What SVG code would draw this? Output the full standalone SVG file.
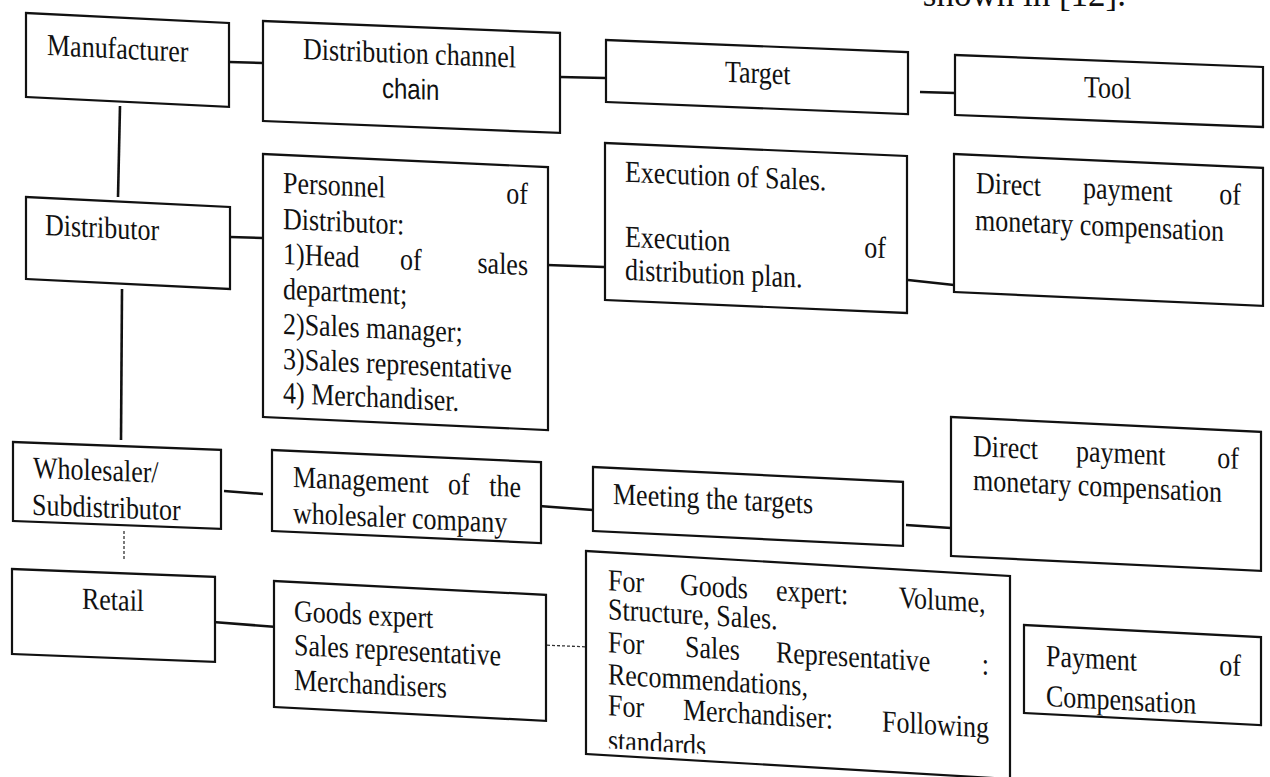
<svg xmlns="http://www.w3.org/2000/svg" width="1270" height="777" viewBox="0 0 1270 777">
<defs>
<style>
.box{fill:#fff;stroke:#111;stroke-width:2.2}
.t{font-family:"Liberation Serif","Times New Roman",serif;font-size:26px;fill:#111}
.s{font-family:"Liberation Sans",Arial,sans-serif;font-size:24px;fill:#111}
.c{stroke:#111;stroke-width:2.6;fill:none}
.cd{stroke:#333;stroke-width:1.3;fill:none;stroke-dasharray:3 2}
</style>
<clipPath id="forclip"><rect x="0" y="0" width="424" height="196"/></clipPath>
</defs>
<rect width="1270" height="777" fill="#fff"/>
<text class="t" x="1126" y="6" text-anchor="end" style="font-size:35px">shown in [12].</text>

<g id="connectors">
<path class="c" d="M229,62 L263,63"/>
<path class="c" d="M560,77 L605,78"/>
<path class="c" d="M920,92 L955,93"/>
<path class="c" d="M120,106 L118,197"/>
<path class="c" d="M230,237 L263,238"/>
<path class="c" d="M547,265 L604,267"/>
<path class="c" d="M908,280 L954,285"/>
<path class="c" d="M122,289 L121,440"/>
<path class="c" d="M224,491 L263,494"/>
<path class="c" d="M539,506 L593,510"/>
<path class="c" d="M906,525 L951,528"/>
<path class="cd" d="M124,531 L124,561"/>
<path class="c" d="M213,622 L277,627"/>
<path class="cd" d="M542,645 L590,647"/>
</g>

<g id="manufacturer" transform="matrix(1,0.049,0,1,26,13)">
<rect class="box" width="203" height="84"/>
<text class="t" transform="matrix(1,0,0,1.18,0,41)" x="21">Manufacturer</text>
</g>

<g id="distribution-channel" transform="matrix(1,0.040,0,1,263,21)">
<rect class="box" width="297" height="100"/>
<text class="t" transform="matrix(1,0,0,1.18,0,36.5)" x="40">Distribution channel</text>
<text class="s" transform="matrix(1,0,0,1.18,0,72)" x="119">chain</text>
</g>

<g id="target" transform="matrix(1,0.040,0,1,606,40)">
<rect class="box" width="302" height="62"/>
<text class="t" transform="matrix(1,0,0,1.18,0,37)" x="119">Target</text>
</g>

<g id="tool" transform="matrix(1,0.039,0,1,955,55)">
<rect class="box" width="308" height="60"/>
<text class="t" transform="matrix(1,0,0,1.18,0,37)" x="129">Tool</text>
</g>

<g id="distributor" transform="matrix(1,0.049,0,1,26,197)">
<rect class="box" width="204" height="82"/>
<text class="t" transform="matrix(1,0,0,1.18,0,37)" x="19">Distributor</text>
</g>

<g id="personnel" transform="matrix(1,0.046,0,1,263,154)">
<rect class="box" width="285" height="263"/>
<text class="t" transform="matrix(1,0,0,1.18,0,38)" x="20">Personnel<tspan x="243.3">of</tspan></text>
<text class="t" transform="matrix(1,0,0,1.18,0,74)" x="20">Distributor:</text>
<text class="t" transform="matrix(1,0,0,1.18,0,109)" x="20">1)Head<tspan x="137">of</tspan><tspan x="214.5">sales</tspan></text>
<text class="t" transform="matrix(1,0,0,1.18,0,144)" x="20">department;</text>
<text class="t" transform="matrix(1,0,0,1.18,0,179)" x="20">2)Sales manager;</text>
<text class="t" transform="matrix(1,0,0,1.18,0,214)" x="20">3)Sales representative</text>
<text class="t" transform="matrix(1,0,0,1.18,0,248)" x="20">4) Merchandiser.</text>
</g>

<g id="execution" transform="matrix(1,0.043,0,1,605,143)">
<rect class="box" width="302" height="157"/>
<text class="t" transform="matrix(1,0,0,1.18,0,38)" x="20">Execution of Sales.</text>
<text class="t" transform="matrix(1,0,0,1.18,0,103)" x="20">Execution<tspan x="259.3">of</tspan></text>
<text class="t" transform="matrix(1,0,0,1.18,0,136)" x="20">distribution plan.</text>
</g>

<g id="direct-payment-1" transform="matrix(1,0.045,0,1,954,154)">
<rect class="box" width="309" height="138"/>
<text class="t" transform="matrix(1,0,0,1.18,0,38)" x="22">Direct<tspan x="129">payment</tspan><tspan x="265.3">of</tspan></text>
<text class="t" transform="matrix(1,0,0,1.18,0,75)" x="21">monetary compensation</text>
</g>

<g id="wholesaler" transform="matrix(1,0.038,0,1,13,442)">
<rect class="box" width="208" height="79"/>
<text class="t" transform="matrix(1,0,0,1.18,0,35)" x="20">Wholesaler/</text>
<text class="t" transform="matrix(1,0,0,1.18,0,72)" x="19">Subdistributor</text>
</g>

<g id="management" transform="matrix(1,0.045,0,1,272,450)">
<rect class="box" width="269" height="81"/>
<text class="t" transform="matrix(1,0,0,1.18,0,36)" x="21">Management<tspan x="176">of</tspan><tspan x="217.2">the</tspan></text>
<text class="t" transform="matrix(1,0,0,1.18,0,72)" x="21">wholesaler company</text>
</g>

<g id="meeting" transform="matrix(1,0.048,0,1,593,467)">
<rect class="box" width="310" height="64"/>
<text class="t" transform="matrix(1,0,0,1.18,0,36)" x="20">Meeting the targets</text>
</g>

<g id="direct-payment-2" transform="matrix(1,0.048,0,1,951,417)">
<rect class="box" width="310" height="139"/>
<text class="t" transform="matrix(1,0,0,1.18,0,38)" x="22">Direct<tspan x="125">payment</tspan><tspan x="266.3">of</tspan></text>
<text class="t" transform="matrix(1,0,0,1.18,0,72)" x="22">monetary compensation</text>
</g>

<g id="retail" transform="matrix(1,0.039,0,1,12,569)">
<rect class="box" width="203" height="85"/>
<text class="t" transform="matrix(1,0,0,1.18,0,37)" x="70">Retail</text>
</g>

<g id="staff" transform="matrix(1,0.051,0,1,274,581)">
<rect class="box" width="272" height="126"/>
<text class="t" transform="matrix(1,0,0,1.18,0,39)" x="20">Goods expert</text>
<text class="t" transform="matrix(1,0,0,1.18,0,73)" x="20">Sales representative</text>
<text class="t" transform="matrix(1,0,0,1.18,0,108)" x="20">Merchandisers</text>
</g>

<g id="targets-detail" transform="matrix(1,0.059,0,1,586,551)">
<rect class="box" width="424" height="203"/>
<g clip-path="url(#forclip)">
<text class="t" transform="matrix(1,0,0,1.18,0,38)" x="22">For<tspan x="94">Goods</tspan><tspan x="190">expert:</tspan><tspan x="312.7">Volume,</tspan></text>
<text class="t" transform="matrix(1,0,0,1.18,0,67)" x="22">Structure, Sales.</text>
<text class="t" transform="matrix(1,0,0,1.18,0,100)" x="22">For<tspan x="99">Sales</tspan><tspan x="190">Representative</tspan><tspan x="395.8">:</tspan></text>
<text class="t" transform="matrix(1,0,0,1.18,0,132)" x="22">Recommendations,</text>
<text class="t" transform="matrix(1,0,0,1.18,0,163)" x="22">For<tspan x="97">Merchandiser:</tspan><tspan x="296.1">Following</tspan></text>
<text class="t" transform="matrix(1,0,0,1.18,0,198)" x="22">standards</text>
</g>
</g>

<g id="payment" transform="matrix(1,0.051,0,1,1024,625)">
<rect class="box" width="237" height="88"/>
<text class="t" transform="matrix(1,0,0,1.18,0,40)" x="22">Payment<tspan x="195.3">of</tspan></text>
<text class="t" transform="matrix(1,0,0,1.18,0,80)" x="22">Compensation</text>
</g>
</svg>
